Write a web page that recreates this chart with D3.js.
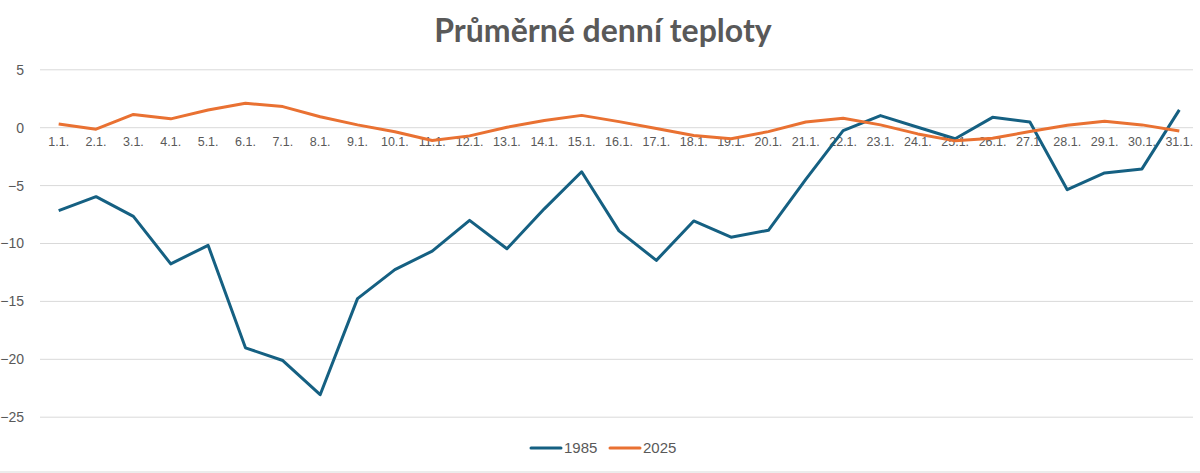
<!DOCTYPE html>
<html>
<head>
<meta charset="utf-8">
<script src="https://cdn.jsdelivr.net/npm/d3@7"></script>
<style>
  body { margin: 0; background: #fff; }
  svg { display: block; }
</style>
</head>
<body>
<div id="chart"></div>
<script>
var days = ["1.1.","2.1.","3.1.","4.1.","5.1.","6.1.","7.1.","8.1.","9.1.","10.1.",
            "11.1.","12.1.","13.1.","14.1.","15.1.","16.1.","17.1.","18.1.","19.1.","20.1.",
            "21.1.","22.1.","23.1.","24.1.","25.1.","26.1.","27.1.","28.1.","29.1.","30.1.","31.1."];

var temps1985 = [-7.2, -6.0, -7.7, -11.8, -10.2, -19.05, -20.15, -23.1, -14.8, -12.3,
                 -10.7, -8.05, -10.5, -7.05, -3.85, -8.95, -11.5, -8.1, -9.5, -8.9,
                 -4.5, -0.3, 1.0, 0.0, -1.0, 0.85, 0.45, -5.4, -3.95, -3.6, 1.5];

var temps2025 = [0.28, -0.17, 1.1, 0.72, 1.48, 2.07, 1.78, 0.9, 0.2, -0.4,
                 -1.15, -0.75, 0.0, 0.57, 1.02, 0.48, -0.12, -0.72, -1.0, -0.38,
                 0.45, 0.77, 0.2, -0.58, -1.18, -0.95, -0.38, 0.17, 0.52, 0.2, -0.32];

var yTicks = [5, 0, -5, -10, -15, -20, -25];
var seriesNames = ["1985", "2025"];
var title = "Průměrné denní teploty";

var width = 1200, height = 473;
var margin = {top: 69.3, right: 2, bottom: 56.3, left: 40};

var svg = d3.select("#chart")
  .append("svg")
    .attr("width", width)
    .attr("height", height);

var x = d3.scaleBand()
  .domain(days)
  .range([margin.left, 1198]);

var y = d3.scaleLinear()
  .domain([-25, 5])
  .range([height - margin.bottom, margin.top]);

var color = d3.scaleOrdinal()
  .domain(seriesNames)
  .range(["#156082", "#E97132"]);

// title
svg.append("text")
  .attr("x", 603)
  .attr("y", 42)
  .attr("text-anchor", "middle")
  .attr("font-family", "Lato, 'Open Sans', sans-serif")
  .attr("font-weight", "bold")
  .attr("font-size", 32)
  .attr("fill", "#595959")
  .text(title);

// gridlines + y labels
var yAxis = svg.append("g")
  .attr("transform", "translate(" + margin.left + ",0)")
  .call(d3.axisLeft(y)
    .tickValues(yTicks)
    .tickSize(-(1193 - margin.left))
    .tickPadding(16)
    .tickFormat(d3.format("d")));
yAxis.select(".domain").remove();
yAxis.selectAll("line").attr("stroke", "#d9d9d9").attr("stroke-width", 1);
yAxis.selectAll("text")
  .attr("fill", "#595959")
  .attr("font-family", "'Liberation Sans', Arial, sans-serif")
  .attr("font-size", 14)
  .attr("dy", "0.35em");

// category labels below the zero line
var xAxis = svg.append("g")
  .attr("transform", "translate(0," + y(0) + ")")
  .call(d3.axisBottom(x).tickSize(0).tickPadding(10));
xAxis.select(".domain").remove();
xAxis.selectAll("text")
  .attr("fill", "#595959")
  .attr("font-family", "'Liberation Sans', Arial, sans-serif")
  .attr("font-size", 12.5);

var cx = function(i) { return x(days[i]) + x.bandwidth() / 2; };

var line = d3.line()
  .x(function(d, i) { return cx(i); })
  .y(function(d) { return y(d); });

svg.append("path")
  .datum(temps1985)
  .attr("fill", "none")
  .attr("stroke", color("1985"))
  .attr("stroke-width", 3)
  .attr("stroke-linejoin", "round")
  .attr("d", line);

svg.append("path")
  .datum(temps2025)
  .attr("fill", "none")
  .attr("stroke", color("2025"))
  .attr("stroke-width", 3)
  .attr("stroke-linejoin", "round")
  .attr("d", line);

// legend
var legend = svg.append("g")
  .selectAll("g")
  .data(seriesNames)
  .enter().append("g")
    .attr("transform", function(d, i) { return "translate(" + (531 + i * 79) + ",448)"; });

legend.append("line")
  .attr("x1", 0)
  .attr("x2", 30)
  .attr("stroke", color)
  .attr("stroke-width", 3)
  .attr("stroke-linecap", "round");

legend.append("text")
  .attr("x", 33)
  .attr("dy", "0.35em")
  .attr("font-family", "'Liberation Sans', Arial, sans-serif")
  .attr("font-size", 15)
  .attr("fill", "#595959")
  .text(function(d) { return d; });

// chart border (bottom edge visible)
svg.append("line")
  .attr("x1", 0).attr("x2", width)
  .attr("y1", 472).attr("y2", 472)
  .attr("stroke", "#d9d9d9");
</script>
</body>
</html>
